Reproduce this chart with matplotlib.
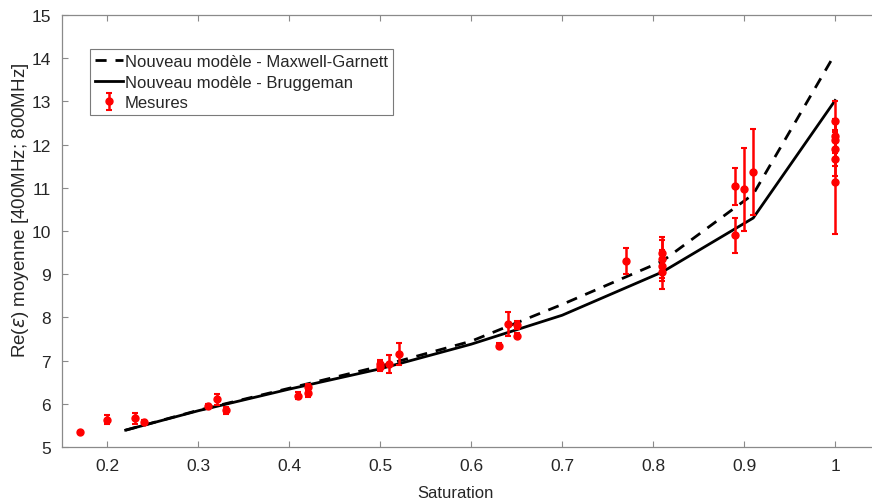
import matplotlib
matplotlib.use("Agg")
import matplotlib.pyplot as plt
import numpy as np

plt.rcParams["font.family"] = ["Liberation Sans", "DejaVu Sans"]

ROUGE, GRIS, TEXTE = "#ff0000", "#8a8a8a", "#262626"

# modèles (saturation -> Re(eps))
sat_mod = [0.22, 0.30, 0.40, 0.50, 0.60, 0.70, 0.81, 0.91, 1.00]
mg = [5.39, 5.85, 6.36, 6.87, 7.45, 8.30, 9.30, 10.85, 14.10]
brug = [5.39, 5.84, 6.34, 6.81, 7.38, 8.05, 9.05, 10.30, 13.02]

# mesures
sat_mes = [0.17, 0.20, 0.23, 0.24, 0.31, 0.32, 0.33, 0.41, 0.42, 0.42,
           0.50, 0.50, 0.51, 0.52, 0.63, 0.64, 0.65, 0.65, 0.77,
           0.81, 0.81, 0.81, 0.81, 0.89, 0.89, 0.90, 0.91,
           1.00, 1.00, 1.00, 1.00, 1.00, 1.00]
eps_mes = [5.35, 5.63, 5.66, 5.58, 5.95, 6.10, 5.85, 6.19, 6.24, 6.38,
           6.86, 6.93, 6.92, 7.15, 7.34, 7.85, 7.82, 7.58, 9.30,
           9.50, 9.35, 9.20, 9.05, 11.03, 9.90, 10.97, 11.37,
           12.55, 12.20, 12.10, 11.90, 11.67, 11.13]
err_mes = [0.03, 0.10, 0.13, 0.05, 0.05, 0.13, 0.08, 0.08, 0.08, 0.08,
           0.10, 0.08, 0.20, 0.25, 0.06, 0.28, 0.10, 0.06, 0.30,
           0.35, 0.45, 0.35, 0.40, 0.43, 0.40, 0.96, 1.00,
           0.47, 0.40, 0.40, 0.40, 0.40, 1.20]

fig = plt.figure(figsize=(8.72, 5.02), dpi=100)
ax = fig.add_axes([0.0711, 0.1076, 0.9387, 0.8606])

ax.plot(sat_mod, mg, "--", color="black", lw=2, dashes=(4, 3.2),
        label="Nouveau modèle - Maxwell-Garnett")
ax.plot(sat_mod, brug, "-", color="black", lw=2,
        label="Nouveau modèle - Bruggeman")
ax.errorbar(sat_mes, eps_mes, yerr=err_mes, fmt="o", color=ROUGE, ecolor=ROUGE,
            mfc=ROUGE, mec=ROUGE, ms=5, elinewidth=1.8, capsize=2.5, capthick=1.5,
            label="Mesures")

ax.set_xlim(0.15, 1.05)
ax.set_ylim(5, 15)
ax.set_xticks(np.arange(0.2, 1.01, 0.1))
ax.set_xticklabels(["0.2", "0.3", "0.4", "0.5", "0.6", "0.7", "0.8", "0.9", "1"])
ax.set_yticks(range(5, 16))
ax.tick_params(direction="in", length=4, width=0.8, color=GRIS, labelcolor=TEXTE,
               labelsize=12.5, top=True, right=True)
ax.tick_params(axis="x", pad=8)
ax.tick_params(axis="y", pad=8)
for s in ax.spines.values():
    s.set_color(GRIS); s.set_linewidth(0.9)

ax.set_xlabel("Saturation", fontsize=12, color=TEXTE)
ax.xaxis.set_label_coords(0.481, -0.088)
ax.set_ylabel(r"Re($\epsilon$) moyenne [400MHz; 800MHz]", fontsize=13.5, color=TEXTE)
ax.yaxis.set_label_coords(-0.038, 0.55)

leg = ax.legend(loc="upper left", bbox_to_anchor=(0.034, 0.921), fontsize=12,
                handlelength=1.7, handletextpad=0.1, borderpad=0.3, borderaxespad=0,
                labelspacing=0.33, fancybox=False, framealpha=1, edgecolor="#7a7a7a")
leg.get_frame().set_linewidth(0.8)
for t in leg.get_texts():
    t.set_color(TEXTE)

fig.savefig("out.png", dpi=100, facecolor="white")
